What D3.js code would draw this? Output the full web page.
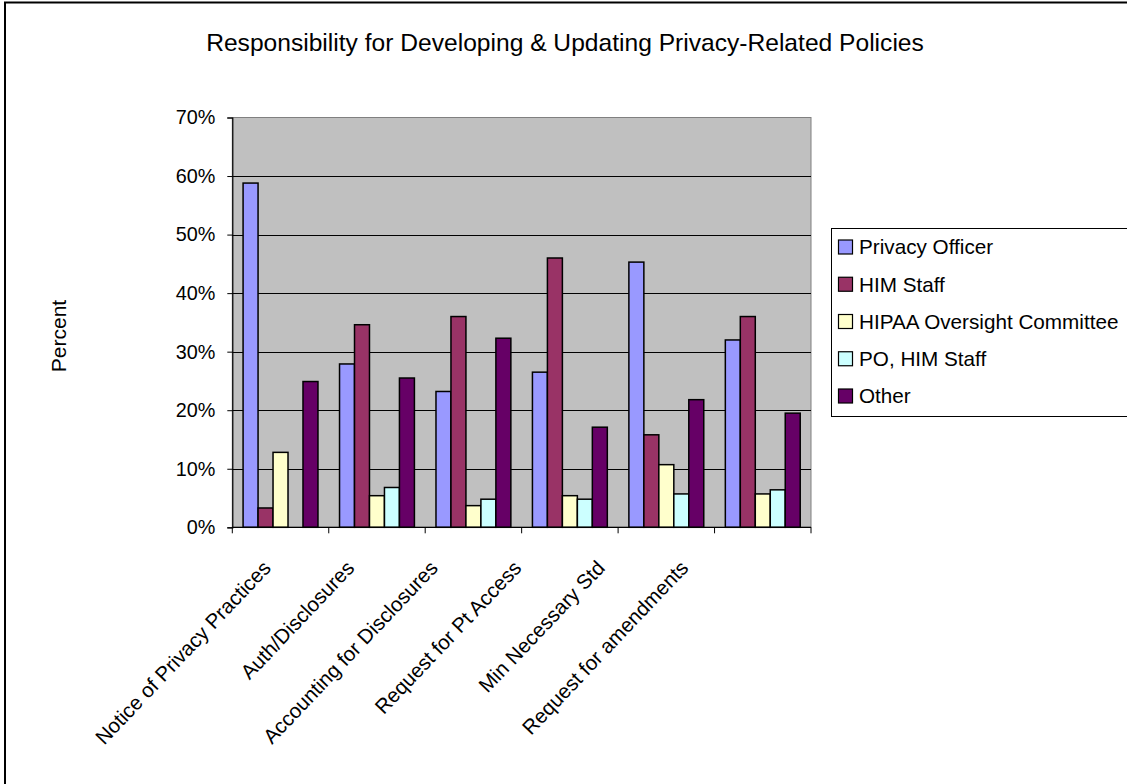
<!DOCTYPE html>
<html><head><meta charset="utf-8">
<script src="https://cdn.jsdelivr.net/npm/d3@7"></script>
<style>
body{margin:0;background:#fff}
svg{display:block}
text{font-family:"Liberation Sans",Arial,sans-serif;fill:#000}
</style>
</head><body><svg id="c" width="1127" height="784"></svg>
<script>
const categories = ["Notice of Privacy Practices","Auth/Disclosures","Accounting for Disclosures","Request for Pt Access","Min Necessary Std","Request for amendments"];
const seriesNames = ["Privacy Officer","HIM Staff","HIPAA Oversight Committee","PO, HIM Staff","Other"];
const privacyOfficer = [58.8,27.9,23.2,26.5,45.3,32.0];
const himStaff = [3.3,34.6,36.0,46.0,15.8,36.0];
const hipaaCommittee = [12.8,5.4,3.7,5.4,10.7,5.7];
const poHimStaff = [0,6.8,4.8,4.8,5.7,6.4];
const other = [24.9,25.5,32.3,17.1,21.8,19.5];
const yTicks = [0,10,20,30,40,50,60,70];
const colors = ["#9999FF","#993366","#FFFFCC","#CCFFFF","#660066"];
const title = "Responsibility for Developing & Updating Privacy-Related Policies";
const yTitle = "Percent";

const seriesValues = [privacyOfficer, himStaff, hipaaCommittee, poHimStaff, other];

const svg = d3.select("#c");
const L = 232.3, R = 811, T = 117.5, B = 527.3;

// outer frame
svg.append("rect").attr("x",5).attr("y",2.5).attr("width",1300).attr("height",1000)
  .attr("fill","none").attr("stroke","#000").attr("stroke-width",2);

const x0 = d3.scaleBand().domain(categories).range([L,R]).paddingInner(0).paddingOuter(0);
const x1 = d3.scaleBand().domain(seriesNames).range([0,x0.bandwidth()]).paddingInner(0).paddingOuter(0.72);
const y = d3.scaleLinear().domain([0,70]).range([B,T]);
const lx = d3.scalePoint().domain(categories).range([272,272+83.5*5]);

// plot area
svg.append("rect").attr("x",L).attr("y",T).attr("width",R-L).attr("height",B-T)
  .attr("fill","#C0C0C0").attr("stroke","#808080").attr("stroke-width",1);

// gridlines
svg.append("g").selectAll("line").data(yTicks.filter(t=>t>0&&t<70)).join("line")
  .attr("x1",L).attr("x2",R).attr("y1",d=>Math.round(y(d))+0.5).attr("y2",d=>Math.round(y(d))+0.5)
  .attr("stroke","#000").attr("stroke-width",1);

// bars
const rows = [];
categories.forEach((c,i)=>seriesNames.forEach((s,j)=>{ if(seriesValues[j][i]>0) rows.push({c,s,v:seriesValues[j][i],j}); }));
svg.append("g").selectAll("rect").data(rows).join("rect")
  .attr("x",d=>x0(d.c)+x1(d.s)).attr("width",x1.bandwidth())
  .attr("y",d=>y(d.v)).attr("height",d=>B-y(d.v))
  .attr("fill",d=>colors[d.j]).attr("stroke","#000").attr("stroke-width",1.5);

// y axis
const yAxis = d3.axisLeft(y).tickValues(yTicks).tickSize(5).tickPadding(12).tickFormat(d=>d+"%");
const ya = svg.append("g").attr("transform",`translate(${L},0)`).call(yAxis);
ya.select(".domain").attr("stroke","#000").attr("stroke-width",1.2);
ya.selectAll(".tick line").attr("stroke","#000");
ya.selectAll(".tick text").attr("font-size","19.8px").attr("font-family","Liberation Sans, Arial, sans-serif").attr("fill","#000");

// x axis (ticks at category boundaries)
const xa = svg.append("g");
xa.append("line").attr("x1",L).attr("x2",R).attr("y1",B).attr("y2",B).attr("stroke","#000").attr("stroke-width",1.2);
const bounds = categories.map(c=>x0(c)).concat([R]);
xa.selectAll("line.t").data(bounds).join("line").attr("class","t")
  .attr("x1",d=>d).attr("x2",d=>d).attr("y1",B).attr("y2",B+6).attr("stroke","#000");

// category labels
svg.append("g").selectAll("text").data(categories).join("text")
  .attr("transform",d=>`translate(${lx(d)},569) rotate(-46.5)`)
  .attr("text-anchor","end").attr("font-size","20.5px").text(d=>d);

// title
svg.append("text").attr("x",565).attr("y",51).attr("text-anchor","middle")
  .attr("font-size","24.6px").text(title);

// y title
svg.append("text").attr("transform","translate(66,336) rotate(-90)").attr("text-anchor","middle")
  .attr("font-size","21px").text(yTitle);

// legend
const lg = svg.append("g");
lg.append("rect").attr("x",831.5).attr("y",228.5).attr("width",400).attr("height",188)
  .attr("fill","#fff").attr("stroke","#000").attr("stroke-width",1);
const ly = d3.scalePoint().domain(seriesNames).range([247,396]);
lg.selectAll("rect.k").data(seriesNames).join("rect").attr("class","k")
  .attr("x",838.5).attr("y",d=>ly(d)-7).attr("width",14).attr("height",14)
  .attr("fill",(d,i)=>colors[i]).attr("stroke","#000").attr("stroke-width",1.2);
lg.selectAll("text").data(seriesNames).join("text")
  .attr("x",859).attr("y",d=>ly(d)).attr("dy","0.36em").attr("font-size","20.7px").text(d=>d);
</script></body></html>
